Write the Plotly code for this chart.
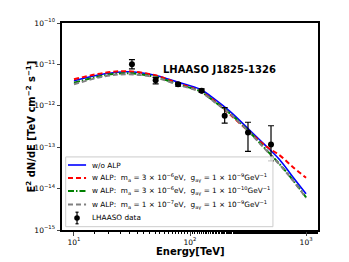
import plotly.graph_objects as go

# Model curves
energy_model = [10, 18.5, 29.2, 49.9, 78.9, 122, 164, 221, 329, 444, 597, 773, 1000]
flux_no_alp = [4.02e-12, 5.94e-12, 6.65e-12, 5.47e-12, 3.70e-12, 2.50e-12, 1.43e-12,
               7.31e-13, 2.53e-13, 1.12e-13, 4.86e-14, 1.88e-14, 7.48e-15]
flux_alp1 = [4.37e-12, 6.29e-12, 6.84e-12, 5.47e-12, 3.50e-12, 2.24e-12, 1.28e-12,
             6.18e-13, 2.26e-13, 1.09e-13, 6.25e-14, 3.29e-14, 1.83e-14]
flux_alp2 = [3.60e-12, 5.47e-12, 6.11e-12, 5.03e-12, 3.31e-12, 2.24e-12, 1.24e-12,
             6.54e-13, 2.26e-13, 9.25e-14, 3.78e-14, 1.59e-14, 6.15e-15]
flux_alp3 = [3.31e-12, 5.17e-12, 5.78e-12, 4.89e-12, 3.21e-12, 2.17e-12, 1.21e-12,
             6.36e-13, 2.20e-13, 8.99e-14, 3.68e-14, 1.55e-14, 5.98e-15]

# LHAASO data points
energy_data = [31.6, 50.6, 79, 126, 199, 316, 499]
flux_data = [1.01e-11, 4.14e-12, 3.3e-12, 2.32e-12, 5.75e-13, 2.26e-13, 1.16e-13]
flux_upper = [1.31e-11, 4.8e-12, 3.6e-12, 2.55e-12, 9.0e-13, 4.0e-13, 3.3e-13]
flux_lower = [7.8e-12, 3.4e-12, 3.0e-12, 2.1e-12, 3.8e-13, 7.9e-14, 4.7e-14]

labels = [
    "w/o ALP",
    "w ALP:  m<sub>a</sub> = 3 × 10<sup>−6</sup>eV,  g<sub>aγ</sub> = 1 × 10<sup>−9</sup>GeV<sup>−1</sup>",
    "w ALP:  m<sub>a</sub> = 3 × 10<sup>−6</sup>eV,  g<sub>aγ</sub> = 1 × 10<sup>−10</sup>GeV<sup>−1</sup>",
    "w ALP:  m<sub>a</sub> = 1 × 10<sup>−7</sup>eV,  g<sub>aγ</sub> = 1 × 10<sup>−9</sup>GeV<sup>−1</sup>",
    "LHAASO data",
]

x_tickvals = [10, 100, 1000]
x_ticktext = ["10<sup>1</sup>", "10<sup>2</sup>", "10<sup>3</sup>"]
y_tickvals = [1e-15, 1e-14, 1e-13, 1e-12, 1e-11, 1e-10]
y_ticktext = ["10<sup>−15</sup>", "10<sup>−14</sup>", "10<sup>−13</sup>",
              "10<sup>−12</sup>", "10<sup>−11</sup>", "10<sup>−10</sup>"]

line_styles = [
    dict(color="#0000ff", width=1.6),
    dict(color="#ff0000", width=2, dash="5px,3px"),
    dict(color="#008000", width=2, dash="6px,2px,1.5px,2px"),
    dict(color="#808080", width=2, dash="5px,3px"),
]
model_series = [flux_no_alp, flux_alp1, flux_alp2, flux_alp3]

fig = go.Figure()
for name, ys, st in zip(labels[:4], model_series, line_styles):
    fig.add_trace(go.Scatter(x=energy_model, y=ys, mode="lines", name=name,
                             line=dict(shape="spline", **st), showlegend=False))
fig.add_trace(go.Scatter(
    x=energy_data, y=flux_data, mode="markers", name=labels[4], showlegend=False,
    marker=dict(color="black", size=6),
    error_y=dict(type="data", symmetric=False,
                 array=[u - f for u, f in zip(flux_upper, flux_data)],
                 arrayminus=[f - l for f, l in zip(flux_data, flux_lower)],
                 color="black", thickness=1.2, width=3),
))

# ---- manual legend (matplotlib-like compact layout) ----
box = dict(x0=0.0145, x1=0.824, y0=0.016, y1=0.353)
row_y = [0.314, 0.251, 0.188, 0.123, 0.058]
sx0, sx1, tx = 0.0234, 0.094, 0.111
shapes = [dict(type="rect", xref="paper", yref="paper", layer="above",
               fillcolor="rgba(255,255,255,0.8)", line=dict(color="#cccccc", width=1), **box)]
for yy, st in zip(row_y[:4], line_styles):
    shapes.append(dict(type="line", xref="paper", yref="paper", layer="above",
                       x0=sx0, x1=sx1, y0=yy, y1=yy, line=st))
mx = (sx0 + sx1) / 2
my = row_y[4]
shapes.append(dict(type="line", xref="paper", yref="paper", layer="above",
                   x0=mx, x1=mx, y0=my - 0.028, y1=my + 0.028, line=dict(color="black", width=1.2)))
for cy in (my - 0.028, my + 0.028):
    shapes.append(dict(type="line", xref="paper", yref="paper", layer="above",
                       x0=mx - 0.006, x1=mx + 0.006, y0=cy, y1=cy, line=dict(color="black", width=1.2)))
shapes.append(dict(type="circle", xref="paper", yref="paper", layer="above",
                   x0=mx - 0.011, x1=mx + 0.011, y0=my - 0.0135, y1=my + 0.0135,
                   fillcolor="black", line=dict(color="black", width=0)))

annotations = [dict(text="<b>LHAASO J1825-1326</b>", xref="paper", yref="paper",
                    x=0.617, y=0.813, showarrow=False,
                    font=dict(size=10, color="black", family="DejaVu Sans"))]
for yy, lab in zip(row_y, labels):
    annotations.append(dict(text=lab, xref="paper", yref="paper", x=tx, y=yy,
                            xanchor="left", yanchor="middle", showarrow=False,
                            font=dict(size=7.3, color="black", family="DejaVu Sans")))
annotations.append(dict(text="<b>Energy[TeV]</b>", xref="paper", yref="paper",
                        x=0.5, y=-0.106, xanchor="center", yanchor="middle", showarrow=False,
                        font=dict(size=10, color="black", family="DejaVu Sans")))
annotations.append(dict(text="<b>E<sup>2</sup> dN/dE [TeV cm<sup>−2</sup> s<sup>−1</sup>]</b>",
                        xref="paper", yref="paper", x=-0.125, y=0.5, textangle=-90,
                        xanchor="center", yanchor="middle", showarrow=False,
                        font=dict(size=10, color="black", family="DejaVu Sans")))

fig.update_layout(
    width=349, height=262,
    margin=dict(l=54, r=39, t=15, b=40, autoexpand=False),
    paper_bgcolor="white", plot_bgcolor="white",
    font=dict(family="DejaVu Sans", color="black", size=8),
    showlegend=False,
    shapes=shapes, annotations=annotations,
    xaxis=dict(type="log", range=[0.897, 3.103], tickvals=x_tickvals, ticktext=x_ticktext,
               ticks="outside", ticklen=3.5, tickwidth=1, showgrid=False, zeroline=False,
               showline=True, linecolor="black", linewidth=2, mirror=True, automargin=False,
               minor=dict(ticks="outside", ticklen=2, tickcolor="black", showgrid=False),
               tickfont=dict(size=7.5)),
    yaxis=dict(type="log", range=[-15, -10], tickvals=y_tickvals, ticktext=y_ticktext,
               ticks="outside", ticklen=3.5, tickwidth=1, showgrid=False, zeroline=False,
               showline=True, linecolor="black", linewidth=2, mirror=True, automargin=False,
               tickfont=dict(size=7.5)),
)

fig.write_html("out.html")
